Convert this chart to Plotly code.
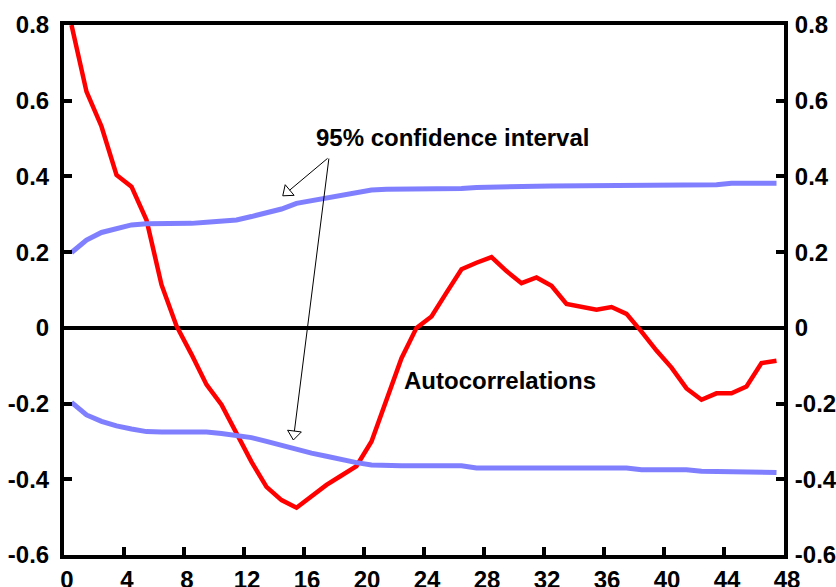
import plotly.graph_objects as go

lags = list(range(48))

autocorr = [0.80, 0.624, 0.532, 0.404, 0.373, 0.285, 0.114, 0.005, -0.07, -0.15,
            -0.203, -0.28, -0.354, -0.42, -0.455, -0.475, -0.445, -0.415, -0.39, -0.365,
            -0.30, -0.19, -0.08, 0.0, 0.03, 0.093, 0.155, 0.172, 0.187, 0.15,
            0.118, 0.133, 0.111, 0.063, 0.055, 0.048, 0.055, 0.037, -0.01, -0.06,
            -0.105, -0.16, -0.19, -0.173, -0.173, -0.155, -0.093, -0.087]

upper_ci = [0.199, 0.232, 0.252, 0.263, 0.272, 0.275, 0.275, 0.275, 0.276, 0.279,
            0.282, 0.285, 0.294, 0.304, 0.314, 0.329, 0.336, 0.345, 0.353, 0.360,
            0.364, 0.366, 0.366, 0.366, 0.366, 0.366, 0.368, 0.371, 0.371, 0.371,
            0.371, 0.374, 0.375, 0.375, 0.375, 0.375, 0.375, 0.375, 0.375, 0.375,
            0.375, 0.377, 0.377, 0.378, 0.382, 0.382, 0.382, 0.382]

lower_ci = [-0.197, -0.230, -0.247, -0.259, -0.267, -0.274, -0.275, -0.275, -0.275, -0.275,
            -0.279, -0.283, -0.290, -0.300, -0.311, -0.322, -0.331, -0.339, -0.348, -0.356,
            -0.362, -0.364, -0.364, -0.364, -0.364, -0.364, -0.364, -0.370, -0.370, -0.370,
            -0.370, -0.370, -0.370, -0.370, -0.370, -0.370, -0.370, -0.370, -0.375, -0.375,
            -0.375, -0.375, -0.379, -0.379, -0.379, -0.382, -0.382, -0.382]

x_tick_labels = [str(v) for v in range(0, 49, 4)]
y_tick_vals = [0.8, 0.6, 0.4, 0.2, 0.0, -0.2, -0.4, -0.6]
y_tick_text = ["0.8", "0.6", "0.4", "0.2", "0", "-0.2", "-0.4", "-0.6"]

FONT = "Liberation Sans, Arial, sans-serif"
RED = "#FF0000"
BLUE = "#8080FF"

fig = go.Figure()
fig.add_trace(go.Scatter(x=lags, y=autocorr, mode="lines",
                         line=dict(color=RED, width=4.5), showlegend=False))
fig.add_trace(go.Scatter(x=lags, y=upper_ci, mode="lines",
                         line=dict(color=BLUE, width=5), showlegend=False))
fig.add_trace(go.Scatter(x=lags, y=lower_ci, mode="lines",
                         line=dict(color=BLUE, width=5), showlegend=False))
# invisible trace to anchor the right axis
fig.add_trace(go.Scatter(x=[lags[0]], y=[0], yaxis="y2", mode="markers",
                         marker=dict(opacity=0), showlegend=False, hoverinfo="skip"))

# open arrowheads
fig.add_trace(go.Scatter(x=[14.39, 14.84], y=[0.359, -0.2805], mode="markers",
                         marker=dict(symbol="triangle-up", size=12, color="white",
                                     angle=[230, 187.2],
                                     line=dict(color="black", width=1)),
                         showlegend=False, hoverinfo="skip"))

tickfont = dict(family=FONT, size=24, color="black", weight="bold")

fig.update_layout(
    width=836, height=587,
    margin=dict(l=64, r=52, t=25, b=32, autoexpand=False),
    paper_bgcolor="white", plot_bgcolor="white",
    xaxis=dict(range=[-0.5, 47.5], tickvals=[v - 0.5 for v in range(0, 49, 4)],
               ticktext=x_tick_labels, ticks="inside", ticklen=8, tickwidth=4,
               tickcolor="black", showline=True, linecolor="black", linewidth=4,
               mirror=True, showgrid=False, zeroline=False, tickfont=tickfont,
               ticklabelshift=3, ticklabelstandoff=0, automargin=False),
    yaxis=dict(range=[-0.6, 0.8], tickvals=y_tick_vals, ticktext=y_tick_text,
               ticks="inside", ticklen=8, tickwidth=4, tickcolor="black",
               showline=True, linecolor="black", linewidth=4, showgrid=False,
               zeroline=True, zerolinecolor="black", zerolinewidth=4,
               tickfont=tickfont, ticklabelstandoff=6, automargin=False),
    yaxis2=dict(range=[-0.6, 0.8], tickvals=y_tick_vals, ticktext=y_tick_text,
                overlaying="y", side="right", anchor="x",
                ticks="inside", ticklen=8, tickwidth=4, tickcolor="black",
                showline=True, linecolor="black", linewidth=4, showgrid=False,
                zeroline=False, tickfont=tickfont, ticklabelstandoff=2,
                automargin=False),
)

fig.add_annotation(x=25.37, y=0.504, text="95% confidence interval", showarrow=False,
                   font=dict(family=FONT, size=24, color="black", weight="bold"),
                   xanchor="center", yanchor="middle")
fig.add_annotation(x=28.57, y=-0.14, text="Autocorrelations", showarrow=False,
                   font=dict(family=FONT, size=24, color="black", weight="bold"),
                   xanchor="center", yanchor="middle")

# arrow shafts (from text to arrowhead bases)
for bx, by in [(14.54, 0.3636), (14.86, -0.2727)]:
    fig.add_annotation(x=bx, y=by, ax=17.17, ay=0.451, axref="x", ayref="y",
                       xref="x", yref="y", text="", showarrow=True,
                       arrowhead=0, arrowwidth=1, arrowcolor="black")

fig.write_html("out.html", config={"displayModeBar": False},
               post_script="document.body.style.margin='0';document.body.style.overflow='hidden';")
